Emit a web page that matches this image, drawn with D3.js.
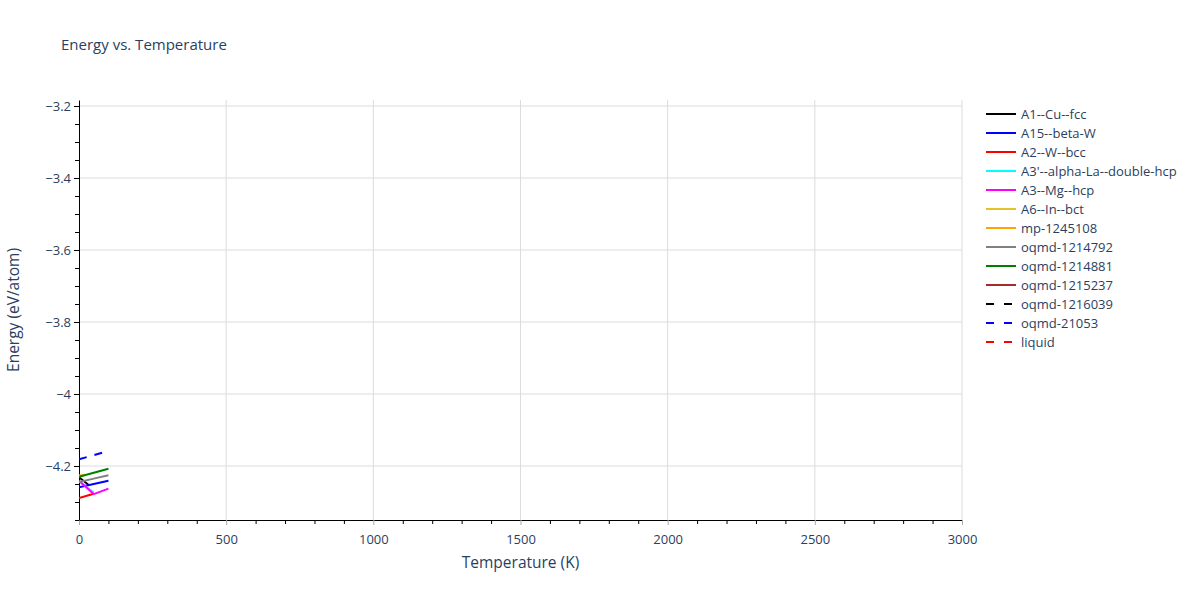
<!DOCTYPE html>
<html>
<head>
<meta charset="utf-8">
<script src="https://cdn.jsdelivr.net/npm/d3@7"></script>
<style>
  body { margin: 0; background: #fff; }
  text { font-family: "Open Sans", verdana, arial, sans-serif; fill: #2a3f5f; }
</style>
</head>
<body>
<svg id="chart" width="1200" height="600"></svg>
<script>
// series, temperatures (K) and energies (eV/atom)
var names = ['A1--Cu--fcc', 'A15--beta-W', 'A2--W--bcc', "A3'--alpha-La--double-hcp", 'A3--Mg--hcp',
  'A6--In--bct', 'mp-1245108', 'oqmd-1214792', 'oqmd-1214881', 'oqmd-1215237',
  'oqmd-1216039', 'oqmd-21053', 'liquid'];
var colors = ['#000000', '#0000ff', '#ff0000', '#00ffff', '#ff00ff', '#e6c229', '#ffa500',
  '#808080', '#008000', '#a52a2a', '#000000', '#0000ff', '#ff0000'];
var dashed = [false, false, false, false, false, false, false, false, false, false, true, true, true];

var temps = [
  [0, 33],
  [0, 50, 100],
  [0, 50],
  [0, 50],
  [0, 50, 100],
  [0, 20],
  [0, 15],
  [0, 50, 100],
  [0, 50, 100],
  [],
  [],
  [0, 50, 100],
  []
];
var energies = [
  [-4.231, -4.253],
  [-4.259, -4.250, -4.241],
  [-4.289, -4.277],
  [-4.2425, -4.274],
  [-4.241, -4.278, -4.263],
  [-4.2265, -4.2245],
  [-4.2285, -4.2265],
  [-4.2444, -4.235, -4.2258],
  [-4.2297, -4.219, -4.2075],
  [],
  [],
  [-4.1814, -4.170, -4.158],
  []
];

var xTicks = [0, 500, 1000, 1500, 2000, 2500, 3000];
var yTicks = [-4.2, -4, -3.8, -3.6, -3.4, -3.2];

var svg = d3.select('#chart');
var mLeft = 79, mRight = 962, mTop = 100, mBottom = 520;

var x = d3.scaleLinear().domain([0, 3000]).range([mLeft, mRight]);
var y = d3.scaleLinear().domain([-4.35, -3.1833]).range([mBottom, mTop]);

function fmt(v) {
  return d3.format('')(v).replace('-', '\u2212');
}

//grid
svg.append('g').selectAll('line')
  .data(xTicks.slice(1)).enter()
  .append('line')
  .attr('x1', function (d) { return x(d); })
  .attr('x2', function (d) { return x(d); })
  .attr('y1', mTop).attr('y2', mBottom)
  .attr('stroke', '#dcdcdc').attr('stroke-width', 1);
svg.append('g').selectAll('line')
  .data(yTicks).enter()
  .append('line')
  .attr('x1', mLeft).attr('x2', mRight)
  .attr('y1', function (d) { return y(d); })
  .attr('y2', function (d) { return y(d); })
  .attr('stroke', '#dcdcdc').attr('stroke-width', 1);

//minor ticks
var xMinor = d3.range(0, 3001, 100).filter(function (d) { return d % 500 != 0; });
var yMinor = d3.range(-4.35, -3.18, 0.05).map(function (d) { return Math.round(d * 100) / 100; })
  .filter(function (d) { return Math.abs(Math.round(d * 5) - d * 5) > 1e-6; });

svg.append('g').attr('transform', 'translate(0,' + mBottom + ')')
  .call(d3.axisBottom(x).tickValues(xMinor).tickSize(4).tickFormat(''))
  .call(function (g) { g.select('.domain').remove(); });
svg.append('g').attr('transform', 'translate(' + mLeft + ',0)')
  .call(d3.axisLeft(y).tickValues(yMinor).tickSize(4).tickFormat(''))
  .call(function (g) { g.select('.domain').remove(); });

//axes
var xAxis = svg.append('g').attr('transform', 'translate(0,' + mBottom + ')')
  .call(d3.axisBottom(x).tickValues(xTicks).tickSize(5).tickSizeOuter(0).tickFormat(fmt));
xAxis.selectAll('.tick line').attr('stroke', '#aaa');
xAxis.selectAll('text').attr('font-size', 13).attr('dy', '1.2em').style('fill', '#2a3f5f');
xAxis.select('.domain').attr('stroke', '#000');

var yAxis = svg.append('g').attr('transform', 'translate(' + mLeft + ',0)')
  .call(d3.axisLeft(y).tickValues(yTicks).tickSize(5).tickSizeOuter(0).tickFormat(fmt));
yAxis.selectAll('text').attr('font-size', 13).attr('x', -8).style('fill', '#2a3f5f');
yAxis.select('.domain').attr('stroke', '#000');

//lines
var line = d3.line()
  .x(function (d) { return x(d[0]); })
  .y(function (d) { return y(d[1]); });

svg.append('defs').append('clipPath').attr('id', 'clip')
  .append('rect').attr('x', mLeft).attr('y', mTop).attr('width', mRight - mLeft).attr('height', mBottom - mTop);

var plot = svg.append('g').attr('clip-path', 'url(#clip)');
names.forEach(function (name, i) {
  var pts = d3.zip(temps[i], energies[i]);
  if (!pts.length) return;
  plot.append('path')
    .datum(pts)
    .attr('fill', 'none')
    .attr('stroke', colors[i])
    .attr('stroke-width', 2)
    .attr('stroke-dasharray', dashed[i] ? '8,8' : null)
    .attr('d', line);
});

//title and labels
svg.append('text').attr('x', 61).attr('y', 50).attr('font-size', 15).text('Energy vs. Temperature');
svg.append('text').attr('x', (mLeft + mRight) / 2).attr('y', 568).attr('font-size', 15.5)
  .attr('text-anchor', 'middle').text('Temperature (K)');
svg.append('text').attr('transform', 'translate(19,' + ((mTop + mBottom) / 2) + ') rotate(-90)')
  .attr('font-size', 15.5).attr('text-anchor', 'middle').text('Energy (eV/atom)');

//legend
var legend = svg.append('g').attr('transform', 'translate(986,114)');
var items = legend.selectAll('g')
  .data(names).enter()
  .append('g')
  .attr('transform', function (d, i) { return 'translate(0,' + (i * 19) + ')'; });
items.append('line')
  .attr('x1', 0).attr('x2', 30).attr('y1', 0).attr('y2', 0)
  .attr('stroke', function (d, i) { return colors[i]; })
  .attr('stroke-width', 2)
  .attr('stroke-dasharray', function (d, i) { return dashed[i] ? '8,10' : null; });
items.append('text')
  .attr('x', 35).attr('y', 0).attr('dy', '0.35em').attr('font-size', 13)
  .text(function (d) { return d; });
</script>
</body>
</html>
